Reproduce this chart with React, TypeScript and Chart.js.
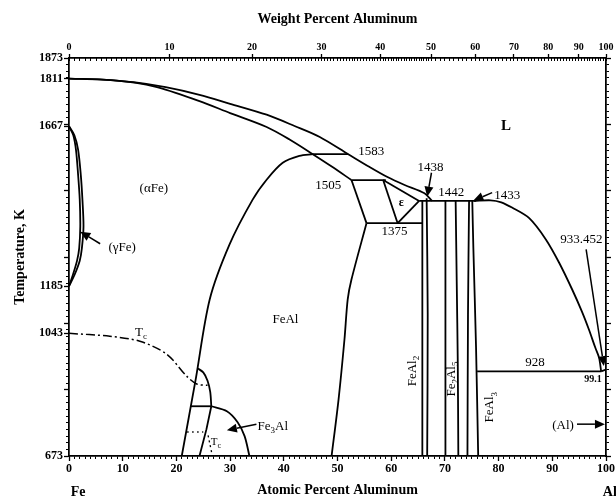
import React, { useEffect, useRef } from "react";
import { Chart, registerables } from "chart.js";

Chart.register(...registerables);

const SERIF = '"Liberation Serif", "Times New Roman", Times, serif';

// ---------- axes ----------
const AT_MIN = 0;
const AT_MAX = 100;
const T_MIN = 673;
const T_MAX = 1873;
const atomicTickValues = [0, 10, 20, 30, 40, 50, 60, 70, 80, 90, 100];
const weightTickValues = [0, 10, 20, 30, 40, 50, 60, 70, 80, 90, 100];
const temperatureTickLabels = [673, 1043, 1185, 1667, 1811, 1873];

// ---------- phase boundaries: [atomic % Al, K] ----------
const liquidusFeSide = [
  [0, 1811], [6, 1808], [12, 1800], [18, 1785], [24.3, 1762], [30, 1735],
  [36.8, 1702], [42, 1668], [46.7, 1635], [52.0, 1583], [55.9, 1545],
  [59.3, 1514], [62.5, 1490], [66.2, 1465], [67.6, 1442],
];
const solidusAlpha = [
  [0, 1811], [8, 1806], [16, 1787], [24.3, 1743], [30, 1707], [36.8, 1665],
  [41, 1628], [45.4, 1583], [49, 1545], [52.6, 1505],
];
const alphaFeAlBoundary = [
  [21.0, 673], [23.6, 905], [26.2, 1145], [29.9, 1311], [34.2, 1446],
  [36.8, 1506], [39.8, 1557], [42.9, 1578], [45.4, 1583],
];
const feAlLeg = [[52.6, 1505], [55.4, 1375]];
const feAlSolvus = [
  [55.4, 1375], [52.6, 1205], [51.9, 1145], [51.3, 1025], [50.2, 844], [48.9, 673],
];
const line1583 = [[45.4, 1583], [52.0, 1583]];
const line1505 = [[52.6, 1505], [59.0, 1505]];
const line1375 = [[55.4, 1375], [65.8, 1375]];
const line1442 = [[65.2, 1442], [75.8, 1442]];
const line928 = [[76.0, 928], [99.1, 928]];
const epsilonLeft = [[58.5, 1505], [61.2, 1375]];
const epsilonRight = [[61.2, 1375], [65.2, 1442]];
const epsilonTop = [[58.5, 1505], [65.2, 1442]];
const feAl2Left = [[65.8, 1442], [65.8, 673]];
const feAl2Right = [[66.6, 1450], [66.8, 1100], [66.7, 673]];
const fe2Al5Left = [[70.1, 1442], [70.1, 673]];
const fe2Al5Right = [[72.0, 1442], [72.2, 1200], [72.4, 950], [72.5, 673]];
const feAl3Left = [[74.5, 1442], [74.3, 1100], [74.2, 673]];
const feAl3Right = [[75.1, 1442], [75.3, 1300], [75.8, 1000], [76.2, 673]];
const liquidusAlSide = [
  [75.4, 1442], [78.5, 1444], [80.5, 1438], [82.5, 1422], [85.7, 1390],
  [88.8, 1326], [91.3, 1255], [93.7, 1175], [95.5, 1109], [96.8, 1055],
  [98.0, 1000], [98.7, 970], [99.1, 928],
];
const liquidusAlEnd = [[99.1, 928], [100, 933.452]];
const gammaLoopOuter = [
  [0, 1667], [1.0, 1640], [1.7, 1596], [2.2, 1520], [2.5, 1446], [2.7, 1365],
  [2.4, 1300], [2.0, 1262], [1.0, 1218], [0, 1185],
];
const gammaLoopInner = [
  [0, 1667], [0.8, 1640], [1.3, 1596], [1.7, 1520], [2.0, 1446], [2.1, 1365],
  [1.9, 1300], [1.5, 1262], [0.7, 1218], [0, 1185],
];
const curieLine = [
  [0, 1043], [7.6, 1034], [13.2, 1019], [18.2, 980], [21.9, 914], [23.8, 890], [25.8, 886],
];
const curieDotted = [[22.0, 745], [25.0, 745]];
const curieLower = [[25.9, 735], [26.7, 673]];
const fe3AlDome = [[23.9, 938], [25.0, 925], [25.8, 900], [26.3, 866], [26.5, 823]];
const fe3AlLower = [[26.5, 823], [25.6, 754], [24.3, 673]];
const fe3AlRight = [[26.5, 823], [29.4, 808], [31.4, 775], [32.7, 733], [33.6, 673]];
const line823 = [[22.7, 823], [26.5, 823]];

// ---------- text and arrows (data coordinates) ----------
type Part = [string, boolean?];
type Note = { parts: Part[]; x: number; y: number; size?: number; bold?: boolean; rot?: number; align?: "left" | "center" | "right" };
const notes: Note[] = [
  { parts: [["(αFe)"]], x: 15.8, y: 1479 },
  { parts: [["(γFe)"]], x: 9.9, y: 1302 },
  { parts: [["L"]], x: 81.4, y: 1668, size: 15, bold: true },
  { parts: [["FeAl"]], x: 40.3, y: 1085 },
  { parts: [["1583"]], x: 56.3, y: 1590 },
  { parts: [["1505"]], x: 48.3, y: 1488 },
  { parts: [["ε"]], x: 61.9, y: 1435, size: 12, bold: true },
  { parts: [["1375"]], x: 60.6, y: 1350 },
  { parts: [["1438"]], x: 67.3, y: 1542 },
  { parts: [["1442"]], x: 71.2, y: 1467 },
  { parts: [["1433"]], x: 81.6, y: 1458 },
  { parts: [["933.452"]], x: 95.4, y: 1326 },
  { parts: [["928"]], x: 86.8, y: 956 },
  { parts: [["99.1"]], x: 97.6, y: 905, size: 10, bold: true },
  { parts: [["(Al)"]], x: 92.0, y: 766 },
  { parts: [["FeAl"], ["2", true]], x: 63.9, y: 929, rot: -Math.PI / 2 },
  { parts: [["Fe"], ["2", true], ["Al"], ["5", true]], x: 71.2, y: 905, rot: -Math.PI / 2 },
  { parts: [["FeAl"], ["3", true]], x: 78.4, y: 820, rot: -Math.PI / 2 },
  { parts: [["Fe"], ["3", true], ["Al"]], x: 35.1, y: 762, align: "left" },
  { parts: [["T"], ["c", true]], x: 12.3, y: 1046, align: "left" },
  { parts: [["T"], ["c", true]], x: 26.4, y: 715, size: 11, align: "left" },
];
const arrows = [
  { from: [5.8, 1313], to: [2.1, 1349] },
  { from: [67.5, 1527], to: [66.7, 1455] },
  { from: [78.8, 1467], to: [75.3, 1443] },
  { from: [96.3, 1296], to: [99.6, 944] },
  { from: [34.9, 769], to: [29.4, 751] },
  { from: [94.6, 769], to: [99.8, 769] },
];

// ---------- helpers ----------
const M_AL = 26.98;
const M_FE = 55.845;
const wtToAt = (w: number) => {
  if (w >= 100) return 100;
  const a = w / M_AL;
  const f = (100 - w) / M_FE;
  return (100 * a) / (a + f);
};
const steps = (start: number, end: number, step: number) => {
  const out: number[] = [];
  for (let v = start; v <= end + 1e-9; v += step) out.push(Math.round(v * 1000) / 1000);
  return out;
};

const bottomMinor = steps(0, 100, 1);
const topMinor = [...steps(0, 50, 0.5), ...steps(51, 100, 1)].map(wtToAt);
const tempMinor = steps(T_MIN, T_MAX, 20);
const tempMajor = steps(T_MIN, T_MAX, 200);
const leftMajor = [...tempMajor, ...temperatureTickLabels.filter((t) => !tempMajor.includes(t))].sort((a, b) => a - b);
const weightAtPos = weightTickValues.map(wtToAt);

const solidSets: [number[][], number][] = [
  [liquidusFeSide, 0.3], [solidusAlpha, 0.3], [alphaFeAlBoundary, 0.3], [feAlLeg, 0],
  [feAlSolvus, 0.3], [line1583, 0], [line1505, 0], [line1375, 0], [line1442, 0],
  [line928, 0], [epsilonLeft, 0], [epsilonRight, 0], [epsilonTop, 0],
  [feAl2Left, 0], [feAl2Right, 0.3], [fe2Al5Left, 0], [fe2Al5Right, 0.3],
  [feAl3Left, 0.3], [feAl3Right, 0.3], [liquidusAlSide, 0.3], [liquidusAlEnd, 0],
  [gammaLoopOuter, 0.3], [gammaLoopInner, 0.3], [fe3AlDome, 0.3], [fe3AlLower, 0],
  [fe3AlRight, 0.3], [line823, 0],
];

function makeSet(arr: number[][], tension: number, extra: any = {}) {
  return {
    data: arr.map(([x, y]) => ({ x, y })),
    showLine: true,
    borderColor: "#000",
    borderWidth: 1.8,
    pointRadius: 0,
    tension,
    fill: false,
    xAxisID: "x",
    yAxisID: "y",
    ...extra,
  };
}

function drawRich(ctx: CanvasRenderingContext2D, n: Note, px: number, py: number) {
  const size = n.size || 13;
  const w = n.bold ? "bold " : "";
  const sub = Math.round(size * 0.72);
  const widths = n.parts.map(([t, s]) => {
    ctx.font = `${w}${s ? sub : size}px ${SERIF}`;
    return ctx.measureText(t).width;
  });
  const total = widths.reduce((a, b) => a + b, 0);
  ctx.save();
  ctx.translate(px, py);
  if (n.rot) ctx.rotate(n.rot);
  let x = n.align === "left" ? 0 : n.align === "right" ? -total : -total / 2;
  ctx.textBaseline = "middle";
  ctx.textAlign = "left";
  ctx.fillStyle = "#000";
  n.parts.forEach(([t, s], i) => {
    ctx.font = `${w}${s ? sub : size}px ${SERIF}`;
    ctx.fillText(t, x, s ? size * 0.32 : 0);
    x += widths[i];
  });
  ctx.restore();
}

function drawArrow(ctx: CanvasRenderingContext2D, x1: number, y1: number, x2: number, y2: number) {
  const head = 10;
  const half = 4.5;
  const ang = Math.atan2(y2 - y1, x2 - x1);
  const bx = x2 - head * Math.cos(ang);
  const by = y2 - head * Math.sin(ang);
  ctx.save();
  ctx.strokeStyle = "#000";
  ctx.fillStyle = "#000";
  ctx.lineWidth = 1.5;
  ctx.beginPath();
  ctx.moveTo(x1, y1);
  ctx.lineTo(bx, by);
  ctx.stroke();
  ctx.beginPath();
  ctx.moveTo(x2, y2);
  ctx.lineTo(bx + half * Math.sin(ang), by - half * Math.cos(ang));
  ctx.lineTo(bx - half * Math.sin(ang), by + half * Math.cos(ang));
  ctx.closePath();
  ctx.fill();
  ctx.restore();
}

const annotationPlugin = {
  id: "phaseAnnotations",
  afterDraw(chart: any) {
    const { ctx } = chart;
    const xs = chart.scales.x;
    const ys = chart.scales.y;
    notes.forEach((n) => drawRich(ctx, n, xs.getPixelForValue(n.x), ys.getPixelForValue(n.y)));
    arrows.forEach((a) =>
      drawArrow(ctx, xs.getPixelForValue(a.from[0]), ys.getPixelForValue(a.from[1]), xs.getPixelForValue(a.to[0]), ys.getPixelForValue(a.to[1]))
    );
    ctx.save();
    ctx.fillStyle = "#000";
    ctx.font = `bold 14px ${SERIF}`;
    ctx.textBaseline = "middle";
    ctx.textAlign = "center";
    ctx.fillText("Fe", xs.getPixelForValue(1.7), chart.height - 6);
    ctx.textAlign = "left";
    ctx.fillText("Al", xs.getPixelForValue(99.4), chart.height - 6);
    ctx.restore();
  },
};

const border = { display: true, color: "#000", width: 1.5 };
const tickFont = { family: SERIF, size: 12, weight: "bold" as const };
const setTicks = (vals: number[]) => (s: any) => {
  s.ticks = vals.map((v) => ({ value: v }));
};

export default function App() {
  const ref = useRef<HTMLCanvasElement>(null);
  useEffect(() => {
    const datasets: any[] = solidSets.map(([arr, t]) => makeSet(arr, t));
    datasets.push(makeSet(curieLine, 0.3, { borderDash: [9, 3, 2, 3], borderWidth: 1.5 }));
    datasets.push(makeSet(curieDotted, 0, { borderDash: [1.5, 3.5], borderWidth: 1.5 }));
    datasets.push(makeSet(curieLower, 0, { borderDash: [2, 3], borderWidth: 1.3 }));

    const chart = new Chart(ref.current!, {
      type: "scatter",
      data: { datasets },
      plugins: [annotationPlugin],
      options: {
        animation: false,
        responsive: true,
        maintainAspectRatio: false,
        events: [],
        layout: { padding: 0 },
        plugins: { legend: { display: false }, tooltip: { enabled: false } },
        scales: {
          x: {
            type: "linear", position: "bottom", min: AT_MIN, max: AT_MAX, weight: 1,
            afterBuildTicks: setTicks(atomicTickValues),
            afterFit: (s: any) => { s.height = 42; },
            ticks: { autoSkip: false, maxRotation: 0, padding: 1, color: "#000", font: tickFont, callback: (v: any) => String(v) },
            grid: { drawOnChartArea: false, tickLength: 5, tickColor: "#000", tickWidth: 1.3 },
            border,
            title: { display: true, text: "Atomic Percent Aluminum", color: "#000", font: { family: SERIF, size: 14, weight: "bold", lineHeight: 1 }, padding: { top: 0, bottom: 1 } },
          },
          xMinor: {
            type: "linear", position: "bottom", min: AT_MIN, max: AT_MAX, weight: 0,
            afterBuildTicks: setTicks(bottomMinor),
            afterFit: (s: any) => { s.height = 0; },
            ticks: { display: false },
            grid: { drawOnChartArea: false, tickLength: 3, tickColor: "#000", tickWidth: 1 },
            border,
          },
          xTop: {
            type: "linear", position: "top", min: AT_MIN, max: AT_MAX, weight: 1,
            afterBuildTicks: setTicks(weightAtPos),
            afterFit: (s: any) => { s.height = 58; },
            ticks: {
              autoSkip: false, maxRotation: 0, padding: 1, color: "#000",
              font: { family: SERIF, size: 10, weight: "bold" },
              callback: (v: any, i: number) => String(weightTickValues[i]),
            },
            grid: { drawOnChartArea: false, tickLength: 4, tickColor: "#000", tickWidth: 1.3 },
            border,
            title: { display: true, text: "Weight Percent Aluminum", color: "#000", font: { family: SERIF, size: 14, weight: "bold", lineHeight: 1 }, padding: { top: 12, bottom: 0 } },
          },
          xTopMinor: {
            type: "linear", position: "top", min: AT_MIN, max: AT_MAX, weight: 0,
            afterBuildTicks: setTicks(topMinor),
            afterFit: (s: any) => { s.height = 0; },
            ticks: { display: false },
            grid: { drawOnChartArea: false, tickLength: -3, tickColor: "#000", tickWidth: 1 },
            border,
          },
          y: {
            type: "linear", position: "left", min: T_MIN, max: T_MAX, weight: 1,
            afterBuildTicks: setTicks(leftMajor),
            afterFit: (s: any) => { s.width = 69; },
            ticks: {
              autoSkip: false, padding: 1, color: "#000", font: tickFont,
              callback: (v: any) => (temperatureTickLabels.includes(v) ? String(v) : ""),
            },
            grid: { drawOnChartArea: false, tickLength: 5, tickColor: "#000", tickWidth: 1.3 },
            border,
            title: { display: true, text: "Temperature, K", color: "#000", font: { family: SERIF, size: 14, weight: "bold", lineHeight: 1 }, padding: { top: 13, bottom: 0 } },
          },
          yMinor: {
            type: "linear", position: "left", min: T_MIN, max: T_MAX, weight: 0,
            afterBuildTicks: setTicks(tempMinor),
            afterFit: (s: any) => { s.width = 0; },
            ticks: { display: false },
            grid: { drawOnChartArea: false, tickLength: 3, tickColor: "#000", tickWidth: 1 },
            border,
          },
          yRight: {
            type: "linear", position: "right", min: T_MIN, max: T_MAX, weight: 1,
            afterBuildTicks: setTicks(tempMajor),
            afterFit: (s: any) => { s.width = 9; },
            ticks: { display: false },
            grid: { drawOnChartArea: false, tickLength: 5, tickColor: "#000", tickWidth: 1.3 },
            border,
          },
          yRightMinor: {
            type: "linear", position: "right", min: T_MIN, max: T_MAX, weight: 0,
            afterBuildTicks: setTicks(tempMinor),
            afterFit: (s: any) => { s.width = 0; },
            ticks: { display: false },
            grid: { drawOnChartArea: false, tickLength: 3, tickColor: "#000", tickWidth: 1 },
            border,
          },
        },
      } as any,
    });
    return () => chart.destroy();
  }, []);
  return (
    <div style={{ position: "absolute", left: 0, top: 0, width: 616, height: 498, background: "#fff" }}>
      <canvas ref={ref} style={{ display: "block" }} />
    </div>
  );
}
